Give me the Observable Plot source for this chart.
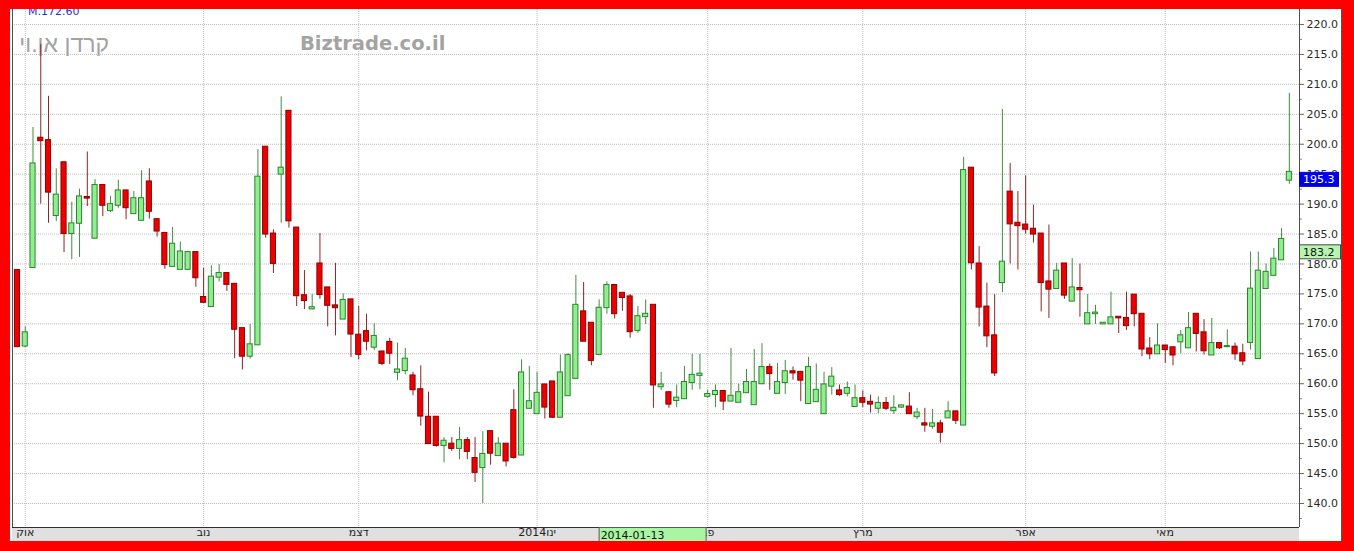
<!DOCTYPE html>
<html>
<head>
<meta charset="utf-8">
<script src="https://cdn.jsdelivr.net/npm/d3@7"></script>
<script src="https://cdn.jsdelivr.net/npm/@observablehq/plot@0.6"></script>
<style>
  html, body { margin: 0; padding: 0; background: #ff0000; }
  #frame { position: relative; width: 1354px; height: 551px; background: #ff0000; overflow: hidden; }
  #panel { position: absolute; left: 10px; top: 9px; width: 1332px; height: 532px; background: #ffffff; overflow: hidden; font-family: "DejaVu Sans", sans-serif; }
  #band { position: absolute; left: 2px; top: 518px; width: 1287px; height: 14px; background: #e0e0e0; }
  #edge { position: absolute; right: 0; top: 0; width: 1px; height: 532px; background: #555; }
  #chart { position: absolute; left: 0; top: 0; }
  .wm { position: absolute; white-space: nowrap; color: #a3a3a3; }
  #last { position: absolute; left: 18px; top: -4px; font-size: 11px; line-height: 14px; color: #2a2ae0; }
  #name { right: 1233px; top: 23px; font-family: "Liberation Sans", sans-serif; font-size: 23px; line-height: 24px; direction: rtl; }
  #site { left: 290px; top: 25px; font-family: "DejaVu Sans", sans-serif; font-weight: bold; font-size: 19.5px; line-height: 20px; }
</style>
</head>
<body>
<div id="frame">
  <div id="panel">
    <div id="band"></div>
    <div id="last">M.172.60</div>
    <div class="wm" id="name">קרדן אן.וי</div>
    <div class="wm" id="site">Biztrade.co.il</div>
    <div id="chart"></div>
    <div id="edge"></div>
  </div>
</div>
<script>
// Daily OHLC prices, one entry per trading day (Sun–Thu), from late Sept 2013 to late May 2014.
const open = [
  178.9,166.3,179.4,201.0,200.6,188.1,196.9,185.1,186.8,191.1,
  184.3,193.1,188.9,189.8,192.2,188.4,187.3,193.7,187.4,185.1,
  179.6,179.1,179.1,181.9,174.4,172.9,177.8,178.4,176.6,169.2,
  164.6,166.5,199.5,185.0,195.0,205.5,186.0,174.7,172.5,180.0,
  176.0,173.0,170.8,174.0,168.1,168.7,166.1,165.3,166.9,161.9,
  162.2,161.3,159.0,154.4,154.4,149.7,149.9,149.2,150.5,147.5,
  146.0,152.0,148.0,149.9,155.5,148.1,155.9,155.0,159.8,160.3,
  154.4,158.0,160.9,172.0,170.1,164.9,172.7,176.4,175.1,174.5,
  168.9,171.2,173.1,159.5,158.5,157.2,157.5,160.2,161.4,157.9,
  158.2,158.7,157.1,156.9,158.5,156.5,160.0,162.7,158.4,160.2,
  162.0,161.9,156.7,157.0,155.0,159.6,158.8,158.4,156.2,157.5,
  156.9,155.9,156.7,155.5,156.1,156.1,154.5,153.3,152.9,153.3,
  154.3,155.3,153.1,196.0,180.0,172.8,168.0,176.9,192.0,186.8,
  186.5,185.8,185.0,177.0,175.9,180.0,173.8,175.9,170.0,171.7,
  170.0,170.0,171.1,170.9,174.8,171.6,165.8,165.0,166.3,166.0,
  167.0,166.0,171.6,168.5,164.8,166.7,166.2,166.1,165.0,166.9,
  164.2,175.9,178.1,180.7,194.0
];
const high = [
  179.0,169.5,202.8,216.7,208.0,195.9,196.9,190.3,192.5,198.7,
  194.1,193.1,191.3,194.0,192.2,192.1,195.6,195.9,187.4,185.1,
  186.1,183.7,181.9,181.9,179.3,179.7,179.9,178.4,176.6,169.2,
  169.9,199.1,199.5,185.7,207.9,205.5,186.0,178.9,174.9,185.1,
  176.0,180.1,175.0,174.0,172.9,171.6,170.0,165.4,167.6,166.8,
  165.9,161.9,163.0,158.6,154.4,151.0,151.0,152.7,151.0,151.0,
  152.0,152.0,151.0,149.9,159.0,164.0,162.9,161.9,159.8,160.3,
  164.8,165.0,178.1,176.9,170.1,174.0,177.0,176.4,175.1,174.9,
  172.9,174.0,173.1,161.9,158.5,159.8,162.9,164.9,164.9,158.9,
  159.8,158.7,165.9,159.9,162.4,165.7,166.7,163.3,163.4,163.9,
  162.8,161.9,164.4,163.3,161.9,162.7,159.8,160.3,159.8,158.8,
  158.1,157.8,157.7,158.0,156.4,158.5,155.9,155.9,155.7,153.9,
  157.0,155.3,197.8,196.0,182.9,176.8,174.9,205.8,196.8,192.1,
  194.7,189.8,185.0,186.5,180.1,180.0,180.9,180.0,174.9,173.1,
  170.2,175.3,171.1,175.3,174.8,171.6,167.7,170.0,166.3,166.0,
  168.9,171.9,171.6,170.7,170.9,166.7,169.0,166.8,166.6,182.0,
  182.0,180.0,182.6,185.9,208.5
];
const low = [
  166.0,166.0,179.3,190.0,186.8,187.1,181.9,180.7,181.1,189.6,
  184.3,187.9,188.6,189.3,187.4,188.4,187.3,187.5,184.5,179.1,
  179.6,179.1,179.1,176.1,173.5,172.9,177.0,175.4,164.2,162.3,
  164.1,166.5,184.3,178.4,186.8,186.0,172.9,172.4,172.3,174.1,
  169.5,168.0,170.8,164.4,164.0,165.5,165.5,163.0,163.2,160.5,
  161.5,158.0,152.9,150.0,149.4,146.8,148.7,147.3,147.3,143.5,
  140.0,146.4,148.0,146.1,147.4,148.1,155.9,155.0,154.1,154.2,
  154.4,158.0,160.9,167.1,163.0,164.9,171.6,170.8,172.1,167.6,
  168.4,169.9,155.9,158.9,155.9,156.0,157.5,158.9,159.0,157.5,
  156.0,155.5,157.1,156.9,158.5,156.5,160.0,158.9,158.4,158.2,
  160.6,157.0,156.7,157.0,155.0,158.1,157.9,157.8,156.2,156.0,
  155.1,155.0,155.5,154.9,155.9,154.9,154.0,151.9,152.4,150.1,
  154.3,153.2,153.1,179.0,169.5,166.0,161.2,175.2,180.0,179.0,
  185.0,183.5,172.0,170.9,175.9,174.1,173.8,171.1,170.0,169.9,
  169.9,170.0,168.4,168.9,169.5,164.5,164.0,165.0,163.4,163.0,
  165.0,166.0,165.3,164.8,164.8,165.7,166.0,163.9,163.0,165.6,
  164.2,175.9,178.1,180.7,193.3
];
const close = [
  166.2,168.5,196.7,200.6,192.0,191.5,185.1,186.7,191.2,191.0,
  193.1,189.8,189.9,192.2,189.4,190.9,190.9,188.8,185.5,179.9,
  183.3,182.0,181.9,177.7,173.6,177.8,178.4,176.6,169.1,164.6,
  166.5,194.5,185.0,180.1,196.0,187.2,174.7,173.9,172.7,174.9,
  173.1,172.7,173.9,168.3,164.9,167.1,167.9,163.4,165.1,162.3,
  164.1,159.0,154.6,150.0,149.7,150.4,149.2,150.5,148.7,145.2,
  148.2,148.4,149.9,147.1,147.7,161.8,157.0,158.4,156.1,154.4,
  161.8,164.7,173.1,167.1,163.9,172.6,176.4,171.7,174.4,168.7,
  171.2,171.6,159.8,159.8,156.6,157.6,160.2,161.4,161.6,158.2,
  158.7,157.1,157.9,158.5,160.2,160.2,162.7,161.7,160.2,162.0,
  161.8,160.6,162.7,158.9,159.8,161.1,158.2,159.2,157.5,156.9,
  156.6,156.7,155.9,155.9,156.3,155.0,155.1,153.1,153.3,151.9,
  155.3,153.9,195.6,180.2,172.8,168.0,161.8,180.3,186.7,186.4,
  185.8,185.0,176.9,175.8,178.8,174.8,176.0,175.7,171.7,171.8,
  170.1,171.0,171.0,169.7,171.7,165.8,165.0,166.3,165.7,164.8,
  168.0,169.2,168.4,165.5,166.7,166.0,166.2,165.0,163.8,175.8,
  178.8,178.6,180.8,184.1,195.3
];

// Month boundaries (index of the first trading day) and their Hebrew labels.
const monthStart = [1, 24, 44, 67, 89, 109, 130, 148];
const monthNames = ["אוק", "נוב", "דצמ", "2014ינו", "פב", "מרץ", "אפר", "מאי"];

// Price axis ticks.
const priceTicks = d3.range(140, 220.01, 5);
const minorTicks = d3.range(137.5, 222.5, 5);

// Marked values on the price axis and the highlighted day.
const lastPrice = 195.3;
const refPrice = 183.2;
const cursorIndex = 75;
const cursorDate = "2014-01-13";

const rows = open.map((o, i) => ({
  i, open: o, high: high[i], low: low[i], close: close[i], up: close[i] >= o
}));
const monthLabel = new Map(monthStart.map((m, k) => [m, monthNames[k]]));

const xDomain = [-0.645, 165.31];
const yDomain = [135.99, 222.5];

const chart = Plot.plot({
  width: 1332,
  height: 532,
  marginLeft: 2,
  marginRight: 43,
  marginTop: 0,
  marginBottom: 14,
  style: { background: "transparent", fontFamily: "DejaVu Sans", fontSize: "11px", color: "#2b2b2b", overflow: "visible" },
  x: { domain: xDomain, label: null },
  y: { domain: yDomain, label: null },
  color: { type: "identity" },
  marks: [
    Plot.gridY({ ticks: priceTicks, stroke: "#bcbcbc", strokeOpacity: 1, strokeDasharray: "1,1" }),
    Plot.gridX({ ticks: monthStart, stroke: "#c0c0c0", strokeOpacity: 1, strokeDasharray: "1,1" }),
    // wicks
    Plot.ruleX(rows, { x: "i", y1: "low", y2: "high", stroke: d => d.up ? "#3f8f3f" : "#8e2323", strokeWidth: 1 }),
    // bodies
    Plot.rect(rows, {
      x1: d => d.i - 0.33, x2: d => d.i + 0.33,
      y1: d => Math.min(d.open, d.close), y2: d => Math.max(d.open, d.close),
      insetTop: -0.5, insetBottom: -0.5,
      fill: d => d.up ? "#90ee90" : "#ee0000",
      stroke: d => d.up ? "#2a852a" : "#8b0000",
      strokeWidth: 1
    }),
    // plot edges
    Plot.ruleX(xDomain, { stroke: "#505050" }),
    Plot.ruleY([yDomain[0]], { stroke: "#303030" }),
    Plot.axisY({ anchor: "right", label: null, ticks: priceTicks, tickFormat: d3.format(".1f"), tickSize: 4, tickPadding: 3, stroke: "#666", fill: "#2b2b2b" }),
    Plot.axisY({ anchor: "right", label: null, ticks: minorTicks, tickFormat: () => "", tickSize: 2, stroke: "#888" }),
    Plot.axisX({ label: null, ticks: monthStart, tickFormat: d => monthLabel.get(d), tickSize: 0, tickPadding: 1, fill: "#222" })
  ]
});
document.getElementById("chart").appendChild(chart);

// Value tags on the price axis and the highlighted date on the time axis.
const xs = chart.scale("x"), ys = chart.scale("y");
const xRight = xs.apply(xDomain[1]);
const svg = d3.select(chart);
const tags = svg.append("g")
  .attr("font-family", "DejaVu Sans")
  .attr("font-size", 11)
  .attr("text-anchor", "start");

function priceTag(v, fill, stroke, textColor, w) {
  const y0 = ys.apply(v);
  tags.append("rect").attr("x", xRight + 0.5).attr("y", y0 + 0.5).attr("width", w).attr("height", 14)
    .attr("fill", fill).attr("stroke", stroke);
  tags.append("text").attr("x", xRight + 4).attr("y", y0 + 11.5).attr("fill", textColor)
    .attr("text-anchor", "start").text(v.toFixed(1));
}
priceTag(refPrice, "#b6f4b0", "#4a4a4a", "#111", 41);
priceTag(lastPrice, "#0000e8", "#0000e8", "#ffffff", 39);

const bx = xs.apply(cursorIndex);
const by = ys.apply(yDomain[0]);
tags.append("rect").attr("x", bx + 0.5).attr("y", by + 0.5).attr("width", 107).attr("height", 14)
  .attr("fill", "#a8f5a2").attr("stroke", "#5a5a5a");
tags.append("text").attr("x", bx + 2).attr("y", by + 11.5).attr("fill", "#111")
  .attr("text-anchor", "start").text(cursorDate);
</script>
</body>
</html>
